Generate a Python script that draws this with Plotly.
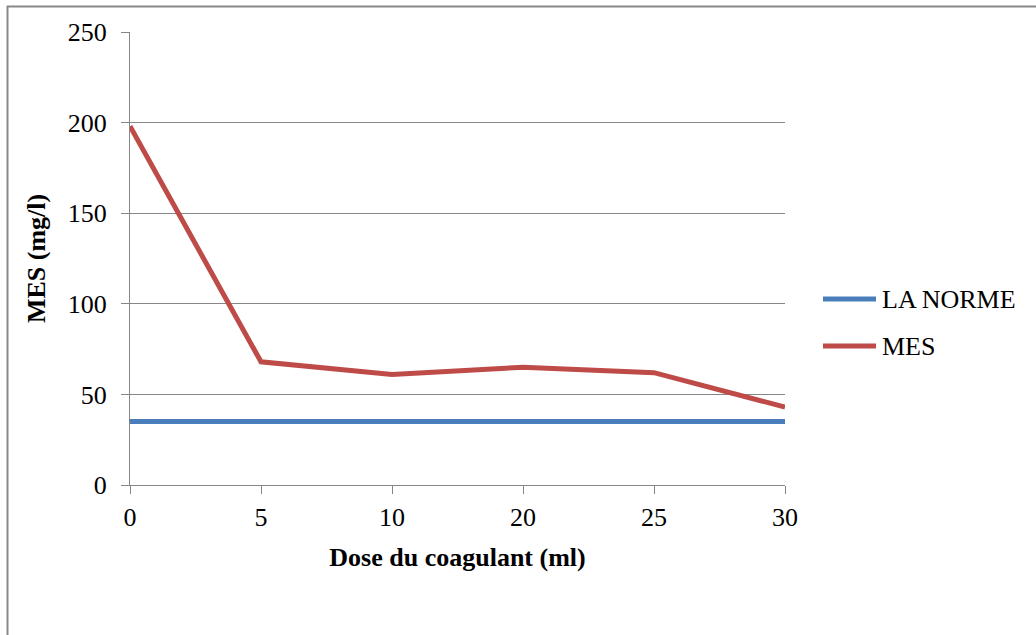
import plotly.graph_objects as go

categories = ["0", "5", "10", "20", "25", "30"]
norme_values = [35, 35, 35, 35, 35, 35]
mes_values = [198, 68, 61, 65, 62, 43]
y_ticks = [0, 50, 100, 150, 200, 250]
series_names = ["LA NORME", "MES"]
series_colors = ["#4A7EBB", "#BE4B48"]

x_idx = list(range(len(categories)))

fig = go.Figure()
for name, vals, col in zip(series_names, [norme_values, mes_values], series_colors):
    fig.add_trace(go.Scatter(x=x_idx, y=vals, mode="lines", name=name,
                             line=dict(color=col, width=5), showlegend=False))

font = "'Times New Roman', 'Liberation Serif', 'DejaVu Serif', serif"
W, H = 1036, 635
L, R, T, B = 130, 785, 32, 485

def px_x(p):
    return (p - L) / (R - L)

def px_y(p):
    return (B - p) / (B - T)

shapes = [
    dict(type="line", xref="paper", yref="paper", x0=px_x(7), x1=px_x(1040),
         y0=px_y(6.5), y1=px_y(6.5), line=dict(color="#888888", width=2)),
    dict(type="line", xref="paper", yref="paper", x0=px_x(7.5), x1=px_x(7.5),
         y0=px_y(6), y1=px_y(640), line=dict(color="#888888", width=2)),
]
annotations = []
legend_y = [299, 346]
for name, col, ly in zip(series_names, series_colors, legend_y):
    shapes.append(dict(type="line", xref="paper", yref="paper", x0=px_x(823), x1=px_x(876),
                       y0=px_y(ly), y1=px_y(ly), line=dict(color=col, width=5)))
    annotations.append(dict(xref="paper", yref="paper", x=px_x(880), y=px_y(ly),
                            xanchor="left", yanchor="middle", text=name, showarrow=False,
                            font=dict(family=font, size=26, color="black")))

fig.update_layout(
    width=W, height=H,
    margin=dict(l=L, r=W - R, t=T, b=H - B, pad=0),
    paper_bgcolor="white", plot_bgcolor="white",
    font=dict(family=font, size=26, color="black"),
    showlegend=False,
    xaxis=dict(range=[0, 5], tickmode="array", tickvals=x_idx, ticktext=categories,
               showgrid=False, zeroline=False, showline=True, linecolor="#868686", linewidth=1,
               ticks="outside", ticklen=8, tickcolor="#868686", ticklabelstandoff=1,
               tickfont=dict(family=font, size=26),
               title=dict(text="<b>Dose du coagulant (ml)</b>", font=dict(family=font, size=26), standoff=16)),
    yaxis=dict(range=[0, 250], tickmode="array", tickvals=y_ticks,
               showgrid=True, gridcolor="#868686", gridwidth=1, zeroline=False,
               showline=True, linecolor="#868686", linewidth=1,
               ticks="outside", ticklen=8, tickcolor="#868686", ticklabelstandoff=9,
               tickfont=dict(family=font, size=26),
               title=dict(text="<b>MES (mg/l)</b>", font=dict(family=font, size=26), standoff=14)),
    shapes=shapes,
    annotations=annotations,
)

fig.write_html("out.html")
